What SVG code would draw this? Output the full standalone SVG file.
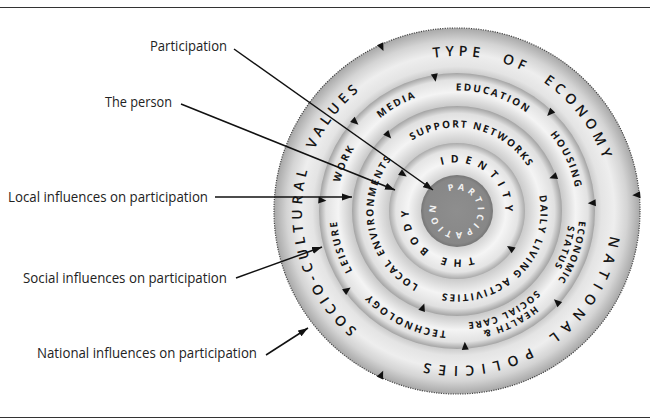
<svg xmlns="http://www.w3.org/2000/svg" width="650" height="420" viewBox="0 0 650 420">
<defs>
  <radialGradient id="g1" gradientUnits="userSpaceOnUse" cx="457" cy="211" r="183">
    <stop offset="0.754" stop-color="#cdcdcd"/>
    <stop offset="0.79" stop-color="#e4e4e4"/>
    <stop offset="0.86" stop-color="#eeeeee"/>
    <stop offset="0.93" stop-color="#d4d4d4"/>
    <stop offset="1" stop-color="#a8a8a8"/>
  </radialGradient>
  <radialGradient id="g2" gradientUnits="userSpaceOnUse" cx="457" cy="211" r="138">
    <stop offset="0.761" stop-color="#c9c9c9"/>
    <stop offset="0.86" stop-color="#f4f4f4"/>
    <stop offset="0.95" stop-color="#e2e2e2"/>
    <stop offset="1" stop-color="#a3a3a3"/>
  </radialGradient>
  <radialGradient id="g3" gradientUnits="userSpaceOnUse" cx="457" cy="211" r="105">
    <stop offset="0.648" stop-color="#cbcbcb"/>
    <stop offset="0.80" stop-color="#f4f4f4"/>
    <stop offset="0.93" stop-color="#e0e0e0"/>
    <stop offset="1" stop-color="#a3a3a3"/>
  </radialGradient>
  <radialGradient id="g4" gradientUnits="userSpaceOnUse" cx="457" cy="211" r="68">
    <stop offset="0.53" stop-color="#d3d3d3"/>
    <stop offset="0.72" stop-color="#f5f5f5"/>
    <stop offset="0.9" stop-color="#e4e4e4"/>
    <stop offset="1" stop-color="#aaaaaa"/>
  </radialGradient>
  <radialGradient id="g5" gradientUnits="userSpaceOnUse" cx="457" cy="211" r="36">
    <stop offset="0" stop-color="#8e8e8e"/>
    <stop offset="0.9" stop-color="#878787"/>
    <stop offset="1" stop-color="#767676"/>
  </radialGradient>
  <path id="tri" d="M-3.5,-1 L3.5,-1 L0,7 Z" fill="#111"/>
  <marker id="ah" markerUnits="userSpaceOnUse" markerWidth="11" markerHeight="8" refX="10" refY="4" orient="auto">
    <path d="M0,0.5 L10,4 L0,7.5 Z" fill="#111"/>
  </marker>
  <path id="p155" d="M457,366 A155,155 0 0 1 457,56 A155,155 0 0 1 457,366 A155,155 0 0 1 457,56 A155,155 0 0 1 457,366"/>
  <path id="p120" d="M457,331.5 A120.5,120.5 0 0 1 457,90.5 A120.5,120.5 0 0 1 457,331.5 A120.5,120.5 0 0 1 457,90.5 A120.5,120.5 0 0 1 457,331.5"/>
  <path id="p122" d="M457,333.5 A122.5,122.5 0 0 1 457,88.5 A122.5,122.5 0 0 1 457,333.5 A122.5,122.5 0 0 1 457,88.5 A122.5,122.5 0 0 1 457,333.5"/>
  <path id="p112" d="M457,323 A112,112 0 0 1 457,99 A112,112 0 0 1 457,323 A112,112 0 0 1 457,99 A112,112 0 0 1 457,323"/>
  <path id="p83" d="M457,294.5 A83.5,83.5 0 0 1 457,127.5 A83.5,83.5 0 0 1 457,294.5 A83.5,83.5 0 0 1 457,127.5 A83.5,83.5 0 0 1 457,294.5"/>
  <path id="p48" d="M457,259.3 A48.3,48.3 0 0 1 457,162.7 A48.3,48.3 0 0 1 457,259.3 A48.3,48.3 0 0 1 457,162.7 A48.3,48.3 0 0 1 457,259.3"/>
  <path id="p21" d="M457,232 A21,21 0 0 1 457,190 A21,21 0 0 1 457,232 A21,21 0 0 1 457,190 A21,21 0 0 1 457,232"/>
</defs>
<style>
  .lbl{font-family:"Open Sans","Liberation Sans",sans-serif;font-size:14px;fill:#222}
  .rt{font-family:"Open Sans","Liberation Sans",sans-serif;font-weight:700;fill:#151515;text-anchor:middle}
  .o{font-size:14px;font-weight:600}
  .r2{font-size:10px;letter-spacing:2px}
  .r2s{font-size:9.5px;letter-spacing:1.6px}
  .r3{font-size:10px;letter-spacing:1.8px}
  .r4{font-size:10.5px}
  .ctr{font-size:9px;font-weight:700;fill:#f2f2f2;letter-spacing:3.6px}
  .rule{stroke:#333;stroke-width:1.2}
  .conn{stroke:#111;stroke-width:1.5;fill:none;marker-end:url(#ah)}
</style>

<line class="rule" x1="0" y1="7.5" x2="650" y2="7.5"/>
<line class="rule" x1="0" y1="417.5" x2="650" y2="417.5"/>

<g id="ring-national">
  <circle cx="457" cy="211" r="183" fill="url(#g1)"/>
  <circle cx="457" cy="211" r="183" fill="none" stroke="#444" stroke-width="1.2" stroke-dasharray="1.2 1.2"/>
  <use href="#tri" transform="rotate(-24.7 457 211) translate(457 28)"/>
  <use href="#tri" transform="rotate(84.9 457 211) translate(457 28)"/>
  <use href="#tri" transform="rotate(204.8 457 211) translate(457 28)"/>
  <text class="rt o" letter-spacing="4.6" word-spacing="10"><textPath href="#p155" startOffset="29.38%">TYPE OF ECONOMY</textPath></text>
  <text class="rt o" letter-spacing="7" word-spacing="4"><textPath href="#p155" startOffset="45.41%">NATIONAL POLICIES</textPath></text>
  <text class="rt o" letter-spacing="4.4" word-spacing="10"><textPath href="#p155" startOffset="62.66%">SOCIO-CULTURAL VALUES</textPath></text>
</g>

<g id="ring-social">
  <circle cx="457" cy="211" r="138" fill="url(#g2)"/>
  <use href="#tri" transform="rotate(-9.4 457 211) translate(457 73)"/>
  <use href="#tri" transform="rotate(43.5 457 211) translate(457 73)"/>
  <use href="#tri" transform="rotate(86.6 457 211) translate(457 73)"/>
  <use href="#tri" transform="rotate(132.3 457 211) translate(457 73)"/>
  <use href="#tri" transform="rotate(176.6 457 211) translate(457 73)"/>
  <use href="#tri" transform="rotate(234.3 457 211) translate(457 73)"/>
  <use href="#tri" transform="rotate(274.5 457 211) translate(457 73)"/>
  <use href="#tri" transform="rotate(311.2 457 211) translate(457 73)"/>
  <text class="rt r2"><textPath href="#p120" startOffset="70.9%">MEDIA</textPath></text>
  <text class="rt r2"><textPath href="#p120" startOffset="27.47%">EDUCATION</textPath></text>
  <text class="rt r2"><textPath href="#p120" startOffset="34.03%">HOUSING</textPath></text>
  <text class="rt r2s"><textPath href="#p122" startOffset="40.28%">ECONOMIC</textPath></text>
  <text class="rt r2s"><textPath href="#p112" startOffset="40.14%">STATUS</textPath></text>
  <text class="rt r2s"><textPath href="#p122" startOffset="46.46%">HEALTH &amp;</textPath></text>
  <text class="rt r2s"><textPath href="#p112" startOffset="46.53%">SOCIAL CARE</textPath></text>
  <text class="rt r2"><textPath href="#p120" startOffset="53.64%">TECHNOLOGY</textPath></text>
  <text class="rt r2"><textPath href="#p120" startOffset="60.14%">LEISURE</textPath></text>
  <text class="rt r2"><textPath href="#p120" startOffset="65.69%">WORK</textPath></text>
</g>

<g id="ring-local">
  <circle cx="457" cy="211" r="105" fill="url(#g3)"/>
  <use href="#tri" transform="rotate(317.8 457 211) translate(457 106)"/>
  <use href="#tri" transform="rotate(70.5 457 211) translate(457 106)"/>
  <use href="#tri" transform="rotate(199.5 457 211) translate(457 106)"/>
  <text class="rt r3"><textPath href="#p83" startOffset="26.83%">SUPPORT NETWORKS</textPath></text>
  <text class="rt r3"><textPath href="#p83" startOffset="43.78%">DAILY LIVING ACTIVITIES</textPath></text>
  <text class="rt r3"><textPath href="#p83" startOffset="60.9%">LOCAL ENVIRONMENTS</textPath></text>
</g>

<g id="ring-person">
  <circle cx="457" cy="211" r="68" fill="url(#g4)"/>
  <use href="#tri" transform="rotate(304.4 457 211) translate(457 143)"/>
  <use href="#tri" transform="rotate(124.9 457 211) translate(457 143)"/>
  <text class="rt r4" letter-spacing="6.3"><textPath href="#p48" startOffset="30.47%">IDENTITY</textPath></text>
  <text class="rt r4" letter-spacing="5.7"><textPath href="#p48" startOffset="55.39%">THE BODY</textPath></text>
</g>

<g id="participation">
  <circle cx="457" cy="211" r="36" fill="url(#g5)"/>
  <text class="rt ctr"><textPath href="#p21" startOffset="43.8%">PARTICIPATION</textPath></text>
</g>

<g id="label-participation"><text class="lbl" x="227" y="51.3" text-anchor="end" textLength="77" lengthAdjust="spacingAndGlyphs">Participation</text></g>
<g id="label-person"><text class="lbl" x="172" y="106.5" text-anchor="end" textLength="67" lengthAdjust="spacingAndGlyphs">The person</text></g>
<g id="label-local"><text class="lbl" x="208" y="201.5" text-anchor="end" textLength="200" lengthAdjust="spacingAndGlyphs">Local influences on participation</text></g>
<g id="label-social"><text class="lbl" x="227" y="282.5" text-anchor="end" textLength="204" lengthAdjust="spacingAndGlyphs">Social influences on participation</text></g>
<g id="label-national"><text class="lbl" x="257" y="358.3" text-anchor="end" textLength="220" lengthAdjust="spacingAndGlyphs">National influences on participation</text></g>

<g id="connectors">
  <line class="conn" x1="234" y1="49" x2="433" y2="190"/>
  <line class="conn" x1="181" y1="104" x2="395" y2="190"/>
  <line class="conn" x1="215" y1="197" x2="352" y2="197"/>
  <line class="conn" x1="236" y1="278" x2="322" y2="247"/>
  <line class="conn" x1="266" y1="355" x2="308" y2="328"/>
</g>
</svg>
